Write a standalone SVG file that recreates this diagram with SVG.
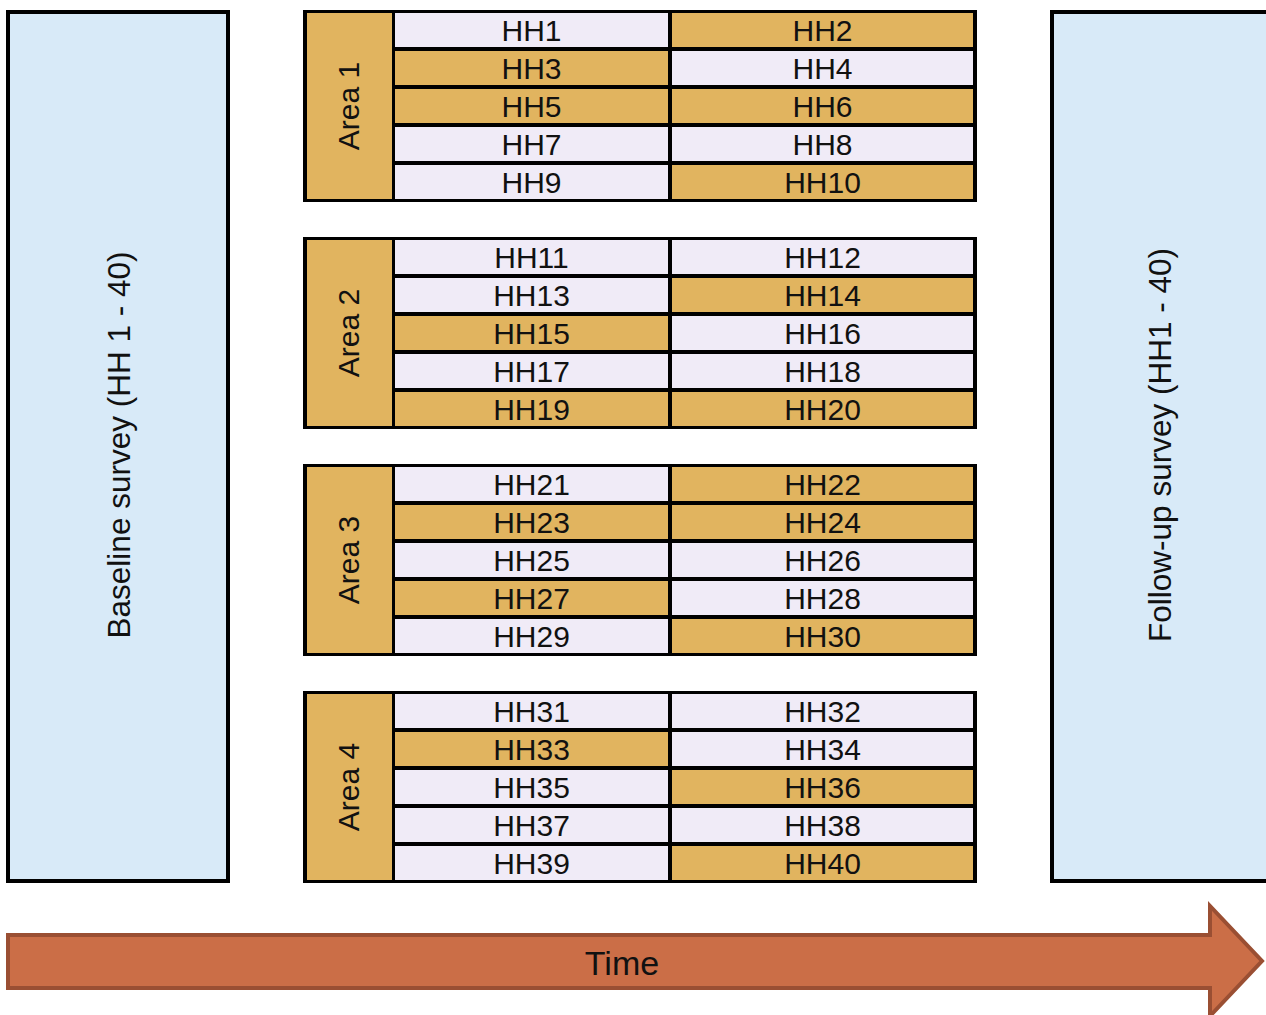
<svg xmlns="http://www.w3.org/2000/svg" width="1266" height="1015" viewBox="0 0 1266 1015">
<style>
.bg{fill:#000}
.g{fill:#E1B45F}
.l{fill:#F0EBF7}
.t{font-family:"Liberation Sans",Arial,sans-serif;font-size:30px;text-anchor:middle;fill:#111}
.big{font-size:31.5px}
.survey{fill:#D8EAF8;stroke:#000;stroke-width:4}
</style>
<rect width="1266" height="1015" fill="#fff"/>
<g id="baseline">
<rect class="survey" x="8" y="12" width="220" height="869"/>
<text class="t big" transform="translate(130,445) rotate(-90)">Baseline survey (HH 1 - 40)</text>
</g>
<g id="followup">
<rect class="survey" x="1052" y="12" width="220" height="869"/>
<text class="t big" transform="translate(1171,445) rotate(-90)">Follow-up survey (HH1 - 40)</text>
</g>

<g id="area1" transform="translate(0,10)">
<rect class="bg" x="303" y="0" width="674" height="192"/>
<g id="area1-label"><rect class="g" x="307" y="3" width="85" height="186"/><text class="t" transform="translate(359,96) rotate(-90)">Area 1</text></g>
<g id="hh1"><rect class="l" x="395" y="3" width="273" height="34"/><text class="t" x="531.5" y="31">HH1</text></g>
<g id="hh2"><rect class="g" x="672" y="3" width="301" height="34"/><text class="t" x="822.5" y="31">HH2</text></g>
<g id="hh3"><rect class="g" x="395" y="41" width="273" height="34"/><text class="t" x="531.5" y="69">HH3</text></g>
<g id="hh4"><rect class="l" x="672" y="41" width="301" height="34"/><text class="t" x="822.5" y="69">HH4</text></g>
<g id="hh5"><rect class="g" x="395" y="79" width="273" height="34"/><text class="t" x="531.5" y="107">HH5</text></g>
<g id="hh6"><rect class="g" x="672" y="79" width="301" height="34"/><text class="t" x="822.5" y="107">HH6</text></g>
<g id="hh7"><rect class="l" x="395" y="117" width="273" height="34"/><text class="t" x="531.5" y="145">HH7</text></g>
<g id="hh8"><rect class="l" x="672" y="117" width="301" height="34"/><text class="t" x="822.5" y="145">HH8</text></g>
<g id="hh9"><rect class="l" x="395" y="155" width="273" height="34"/><text class="t" x="531.5" y="183">HH9</text></g>
<g id="hh10"><rect class="g" x="672" y="155" width="301" height="34"/><text class="t" x="822.5" y="183">HH10</text></g>
</g>

<g id="area2" transform="translate(0,237)">
<rect class="bg" x="303" y="0" width="674" height="192"/>
<g id="area2-label"><rect class="g" x="307" y="3" width="85" height="186"/><text class="t" transform="translate(359,96) rotate(-90)">Area 2</text></g>
<g id="hh11"><rect class="l" x="395" y="3" width="273" height="34"/><text class="t" x="531.5" y="31">HH11</text></g>
<g id="hh12"><rect class="l" x="672" y="3" width="301" height="34"/><text class="t" x="822.5" y="31">HH12</text></g>
<g id="hh13"><rect class="l" x="395" y="41" width="273" height="34"/><text class="t" x="531.5" y="69">HH13</text></g>
<g id="hh14"><rect class="g" x="672" y="41" width="301" height="34"/><text class="t" x="822.5" y="69">HH14</text></g>
<g id="hh15"><rect class="g" x="395" y="79" width="273" height="34"/><text class="t" x="531.5" y="107">HH15</text></g>
<g id="hh16"><rect class="l" x="672" y="79" width="301" height="34"/><text class="t" x="822.5" y="107">HH16</text></g>
<g id="hh17"><rect class="l" x="395" y="117" width="273" height="34"/><text class="t" x="531.5" y="145">HH17</text></g>
<g id="hh18"><rect class="l" x="672" y="117" width="301" height="34"/><text class="t" x="822.5" y="145">HH18</text></g>
<g id="hh19"><rect class="g" x="395" y="155" width="273" height="34"/><text class="t" x="531.5" y="183">HH19</text></g>
<g id="hh20"><rect class="g" x="672" y="155" width="301" height="34"/><text class="t" x="822.5" y="183">HH20</text></g>
</g>

<g id="area3" transform="translate(0,464)">
<rect class="bg" x="303" y="0" width="674" height="192"/>
<g id="area3-label"><rect class="g" x="307" y="3" width="85" height="186"/><text class="t" transform="translate(359,96) rotate(-90)">Area 3</text></g>
<g id="hh21"><rect class="l" x="395" y="3" width="273" height="34"/><text class="t" x="531.5" y="31">HH21</text></g>
<g id="hh22"><rect class="g" x="672" y="3" width="301" height="34"/><text class="t" x="822.5" y="31">HH22</text></g>
<g id="hh23"><rect class="g" x="395" y="41" width="273" height="34"/><text class="t" x="531.5" y="69">HH23</text></g>
<g id="hh24"><rect class="g" x="672" y="41" width="301" height="34"/><text class="t" x="822.5" y="69">HH24</text></g>
<g id="hh25"><rect class="l" x="395" y="79" width="273" height="34"/><text class="t" x="531.5" y="107">HH25</text></g>
<g id="hh26"><rect class="l" x="672" y="79" width="301" height="34"/><text class="t" x="822.5" y="107">HH26</text></g>
<g id="hh27"><rect class="g" x="395" y="117" width="273" height="34"/><text class="t" x="531.5" y="145">HH27</text></g>
<g id="hh28"><rect class="l" x="672" y="117" width="301" height="34"/><text class="t" x="822.5" y="145">HH28</text></g>
<g id="hh29"><rect class="l" x="395" y="155" width="273" height="34"/><text class="t" x="531.5" y="183">HH29</text></g>
<g id="hh30"><rect class="g" x="672" y="155" width="301" height="34"/><text class="t" x="822.5" y="183">HH30</text></g>
</g>

<g id="area4" transform="translate(0,691)">
<rect class="bg" x="303" y="0" width="674" height="192"/>
<g id="area4-label"><rect class="g" x="307" y="3" width="85" height="186"/><text class="t" transform="translate(359,96) rotate(-90)">Area 4</text></g>
<g id="hh31"><rect class="l" x="395" y="3" width="273" height="34"/><text class="t" x="531.5" y="31">HH31</text></g>
<g id="hh32"><rect class="l" x="672" y="3" width="301" height="34"/><text class="t" x="822.5" y="31">HH32</text></g>
<g id="hh33"><rect class="g" x="395" y="41" width="273" height="34"/><text class="t" x="531.5" y="69">HH33</text></g>
<g id="hh34"><rect class="l" x="672" y="41" width="301" height="34"/><text class="t" x="822.5" y="69">HH34</text></g>
<g id="hh35"><rect class="l" x="395" y="79" width="273" height="34"/><text class="t" x="531.5" y="107">HH35</text></g>
<g id="hh36"><rect class="g" x="672" y="79" width="301" height="34"/><text class="t" x="822.5" y="107">HH36</text></g>
<g id="hh37"><rect class="l" x="395" y="117" width="273" height="34"/><text class="t" x="531.5" y="145">HH37</text></g>
<g id="hh38"><rect class="l" x="672" y="117" width="301" height="34"/><text class="t" x="822.5" y="145">HH38</text></g>
<g id="hh39"><rect class="l" x="395" y="155" width="273" height="34"/><text class="t" x="531.5" y="183">HH39</text></g>
<g id="hh40"><rect class="g" x="672" y="155" width="301" height="34"/><text class="t" x="822.5" y="183">HH40</text></g>
</g>

<g id="connectors">
<g id="time-arrow">
<path d="M8,935 L1210,935 L1210,906 L1262,961 L1210,1016 L1210,988 L8,988 Z" fill="#CB6E47" stroke="#9A4F33" stroke-width="4" stroke-linejoin="miter"/>
<text class="t" x="622" y="975" style="font-size:34px">Time</text>
</g>
</g>
</svg>
